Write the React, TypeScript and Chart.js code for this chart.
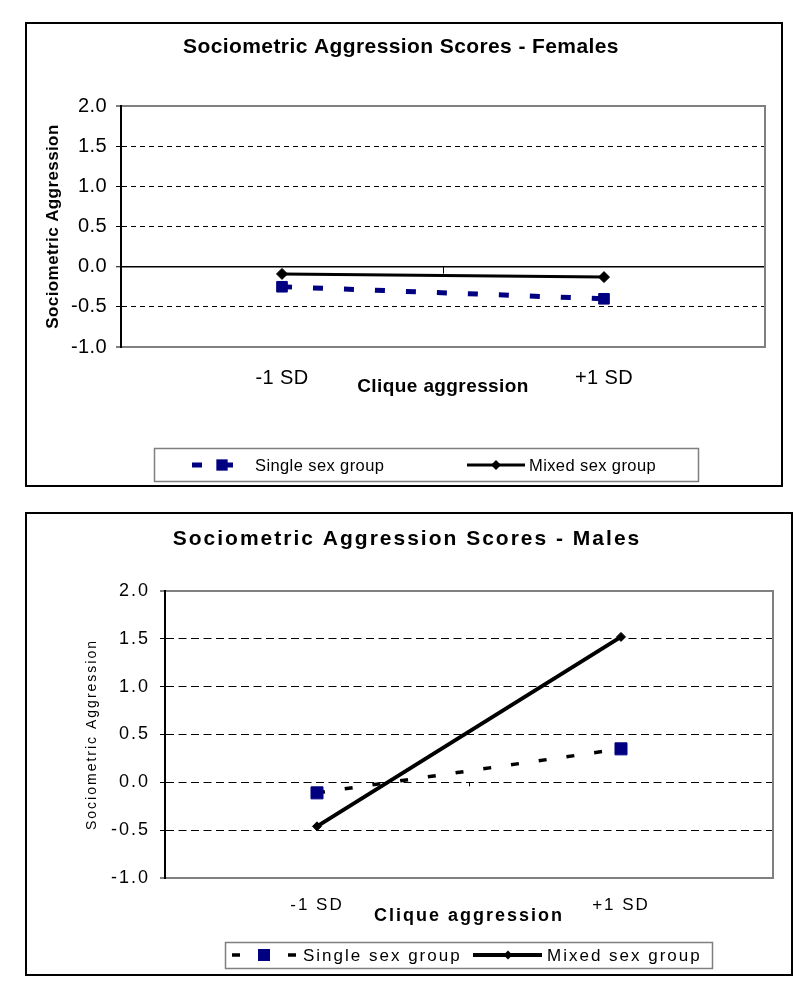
import React, { useEffect, useRef } from 'react';
import { Chart, registerables } from 'chart.js';

Chart.register(...registerables);

// ---------- data ----------
const categories = ['-1 SD', '+1 SD'];
const seriesLabels = ['Single sex group', 'Mixed sex group'];
const femalesSingle = [-0.25, -0.40];
const femalesMixed = [-0.09, -0.13];
const malesSingle = [-0.11, 0.35];
const malesMixed = [-0.46, 1.52];
const yMin = -1.0;
const yMax = 2.0;
const yStep = 0.5;
const chartTitles = ['Sociometric Aggression Scores - Females', 'Sociometric Aggression Scores - Males'];
const xAxisTitle = 'Clique aggression';
const yAxisTitle = 'Sociometric Aggression';

const NAVY = '#000080';
const FONT = '"Liberation Sans", Arial, Helvetica, sans-serif';

// ---------- plugins ----------
const spacingPlugin = {
  id: 'spacing',
  beforeDraw(chart: any, _a: any, opts: any) {
    (chart.ctx as any).letterSpacing = (opts.ls || 0) + 'px';
  },
};

const framePlugin = {
  id: 'frame',
  beforeDatasetsDraw(chart: any, _a: any, opts: any) {
    const { ctx, chartArea, scales } = chart;
    ctx.save();
    ctx.setLineDash([]);
    ctx.strokeStyle = '#808080';
    ctx.lineWidth = 2;
    ctx.beginPath();
    ctx.moveTo(chartArea.right, chartArea.top - 1);
    ctx.lineTo(chartArea.right, chartArea.bottom + 1);
    ctx.stroke();
    // category axis tick mark between the two categories, at y = 0
    const xs = scales.x;
    const cx = Math.round((xs.getPixelForValue(0) + xs.getPixelForValue(1)) / 2) + 0.5;
    const y0 = scales.y.getPixelForValue(0);
    ctx.strokeStyle = '#000';
    ctx.lineWidth = 1;
    ctx.beginPath();
    ctx.moveTo(cx, y0);
    ctx.lineTo(cx, y0 + (opts.tick || 5));
    ctx.stroke();
    ctx.restore();
  },
};

function drawMarker(ctx: CanvasRenderingContext2D, style: string, x: number, y: number, r: number, color: string) {
  ctx.fillStyle = color;
  ctx.beginPath();
  if (style === 'rect') {
    const s = r * Math.SQRT1_2;
    ctx.rect(x - s, y - s, 2 * s, 2 * s);
  } else {
    ctx.moveTo(x, y - r);
    ctx.lineTo(x + r, y);
    ctx.lineTo(x, y + r);
    ctx.lineTo(x - r, y);
    ctx.closePath();
  }
  ctx.fill();
}

const boxLegendPlugin = {
  id: 'boxLegend',
  afterDraw(chart: any, _a: any, opts: any) {
    const ctx: CanvasRenderingContext2D = chart.ctx;
    ctx.save();
    const [bx, by, bw, bh] = opts.box;
    ctx.setLineDash([]);
    ctx.fillStyle = '#fff';
    ctx.fillRect(bx, by, bw, bh);
    ctx.strokeStyle = '#7f7f7f';
    ctx.lineWidth = 1.5;
    ctx.strokeRect(bx + 0.5, by + 0.5, bw, bh);
    chart.data.datasets.forEach((ds: any, i: number) => {
      const it = opts.items[i];
      const y = opts.y;
      ctx.setLineDash(ds.borderDash || []);
      ctx.strokeStyle = ds.borderColor;
      ctx.lineWidth = ds.borderWidth;
      ctx.beginPath();
      ctx.moveTo(it.x0, y);
      ctx.lineTo(it.x1, y);
      ctx.stroke();
      ctx.setLineDash([]);
      drawMarker(ctx, ds.pointStyle, it.mx, y, it.r, ds.pointBackgroundColor);
      ctx.fillStyle = '#000';
      ctx.font = `${opts.fontSize}px ${FONT}`;
      ctx.textAlign = 'left';
      ctx.textBaseline = 'middle';
      ctx.fillText(ds.label, it.tx, y + 1);
    });
    ctx.restore();
  },
};

// ---------- config ----------
function font(size: number, bold = false) {
  return { family: FONT, size, weight: bold ? 'bold' : 'normal', lineHeight: 1.2 } as any;
}

function buildConfig(s: any) {
  const solidAt = (v: number) => v === yMax || v === yMin || (s.zeroSolid && v === 0);
  return {
    type: 'line',
    data: { labels: categories, datasets: s.datasets },
    options: {
      responsive: false,
      animation: false,
      events: [],
      layout: { padding: { left: s.padLeft, right: s.padRight, top: 0, bottom: s.padBottom } },
      plugins: {
        legend: { display: false },
        tooltip: { enabled: false },
        title: {
          display: true,
          text: s.title,
          color: '#000',
          font: font(s.titleSize, true),
          padding: { top: s.titlePadTop, bottom: s.titlePadBottom },
        },
        spacing: { ls: s.ls },
        frame: { tick: s.centerTick },
        boxLegend: s.legend,
      },
      scales: {
        x: {
          type: 'category',
          offset: true,
          grid: { display: false, drawTicks: false },
          border: { display: true, color: '#808080', width: 2 },
          ticks: {
            color: '#000',
            font: font(s.xTickSize),
            padding: s.xTickPad,
            maxRotation: 0,
            autoSkip: false,
          },
          title: {
            display: true,
            text: xAxisTitle,
            color: '#000',
            font: font(s.xTitleSize, true),
            padding: { top: 0, bottom: s.xTitlePadBottom },
          },
          afterFit: (sc: any) => {
            sc.height = s.xHeight;
          },
        },
        y: {
          min: yMin,
          max: yMax,
          ticks: {
            stepSize: yStep,
            color: '#000',
            font: font(s.yTickSize),
            padding: s.yTickPad,
            callback: (v: any) => Number(v).toFixed(1),
          },
          grid: {
            color: (c: any) => (c.tick && (c.tick.value === yMax || c.tick.value === yMin) ? '#808080' : '#000'),
            lineWidth: (c: any) =>
              c.tick && (c.tick.value === yMax || c.tick.value === yMin) ? 2 : c.tick && c.tick.value === 0 && s.zeroSolid ? 1.5 : 1,
            drawTicks: true,
            tickLength: 5,
            tickColor: '#000',
            tickWidth: 1,
          },
          border: {
            display: true,
            color: '#000',
            width: 2,
            dash: (c: any) => (c.tick && !solidAt(c.tick.value) ? s.gridDash : []),
          },
          title: {
            display: true,
            text: yAxisTitle,
            color: '#000',
            font: font(s.yTitleSize, s.yTitleBold),
            padding: { top: s.yTitlePadTop, bottom: 0 },
          },
          afterFit: (sc: any) => {
            sc.width = s.yWidth;
          },
        },
      },
    },
    plugins: [spacingPlugin, framePlugin, boxLegendPlugin],
  };
}

const femalesSpec = {
  canvasW: 754,
  canvasH: 461,
  ls: 0.4,
  title: chartTitles[0],
  titleSize: 21,
  titlePadTop: 10.4,
  titlePadBottom: 46.4,
  padLeft: 10,
  padRight: 16,
  padBottom: 78,
  yWidth: 84,
  yTickSize: 20,
  yTickPad: 9,
  yTitleSize: 17,
  yTitleBold: true,
  yTitlePadTop: 5.8,
  xTickSize: 20,
  xTickPad: 19,
  xTitleSize: 19,
  xTitlePadBottom: 8.6,
  xHeight: 60,
  zeroSolid: true,
  gridDash: [5, 4],
  centerTick: 7,
  legend: {
    box: [127, 424, 544, 33],
    y: 441,
    fontSize: 16.5,
    items: [
      { x0: 165, x1: 218, mx: 195, r: 8, tx: 228 },
      { x0: 440, x1: 498, mx: 469, r: 5, tx: 502 },
    ],
  },
  datasets: [
    {
      label: seriesLabels[0],
      data: femalesSingle,
      borderColor: NAVY,
      backgroundColor: NAVY,
      borderWidth: 5,
      borderDash: [10, 21],
      pointStyle: 'rect',
      pointRadius: 7.5,
      pointBackgroundColor: NAVY,
      pointBorderColor: NAVY,
      pointBorderWidth: 1,
      tension: 0,
      fill: false,
      order: 1,
    },
    {
      label: seriesLabels[1],
      data: femalesMixed,
      borderColor: '#000',
      backgroundColor: '#000',
      borderWidth: 3,
      pointStyle: 'rectRot',
      pointRadius: 5.5,
      pointBackgroundColor: '#000',
      pointBorderColor: '#000',
      pointBorderWidth: 1,
      tension: 0,
      fill: false,
      order: 0,
    },
  ],
};

const malesSpec = {
  canvasW: 764,
  canvasH: 460,
  ls: 2,
  title: chartTitles[1],
  titleSize: 21,
  titlePadTop: 12.4,
  titlePadBottom: 39.4,
  padLeft: 14,
  padRight: 18,
  padBottom: 36,
  yWidth: 124,
  yTickSize: 18,
  yTickPad: 10,
  yTitleSize: 14,
  yTitleBold: false,
  yTitlePadTop: 42.6,
  xTickSize: 17,
  xTickPad: 16.8,
  xTitleSize: 18,
  xTitlePadBottom: 10.7,
  xHeight: 60,
  zeroSolid: false,
  gridDash: [8, 4.5],
  centerTick: 4,
  legend: {
    box: [198, 428, 487, 26],
    y: 441,
    fontSize: 17,
    items: [
      { x0: 205, x1: 270, mx: 237, r: 8.5, tx: 276 },
      { x0: 446, x1: 515, mx: 481, r: 4.5, tx: 520 },
    ],
  },
  datasets: [
    {
      label: seriesLabels[0],
      data: malesSingle,
      borderColor: '#000',
      backgroundColor: NAVY,
      borderWidth: 3.5,
      borderDash: [8, 20],
      pointStyle: 'rect',
      pointRadius: 8.5,
      pointBackgroundColor: NAVY,
      pointBorderColor: NAVY,
      pointBorderWidth: 1,
      tension: 0,
      fill: false,
      order: 1,
    },
    {
      label: seriesLabels[1],
      data: malesMixed,
      borderColor: '#000',
      backgroundColor: '#000',
      borderWidth: 4,
      pointStyle: 'rectRot',
      pointRadius: 4.5,
      pointBackgroundColor: '#000',
      pointBorderColor: '#000',
      pointBorderWidth: 1,
      tension: 0,
      fill: false,
      order: 0,
    },
  ],
};

function ChartBox({ spec, left, top, width, height }: any) {
  const ref = useRef<HTMLCanvasElement>(null);
  useEffect(() => {
    const chart = new Chart(ref.current as HTMLCanvasElement, buildConfig(spec) as any);
    return () => chart.destroy();
  }, []);
  return (
    <div
      style={{
        position: 'absolute',
        left,
        top,
        width,
        height,
        boxSizing: 'border-box',
        border: '2px solid #000',
        background: '#fff',
      }}
    >
      <canvas
        ref={ref}
        width={spec.canvasW}
        height={spec.canvasH}
        style={{ display: 'block', width: spec.canvasW, height: spec.canvasH }}
      />
    </div>
  );
}

export default function App() {
  return (
    <div>
      <ChartBox spec={femalesSpec} left={25} top={22} width={758} height={465} />
      <ChartBox spec={malesSpec} left={25} top={512} width={768} height={464} />
    </div>
  );
}
